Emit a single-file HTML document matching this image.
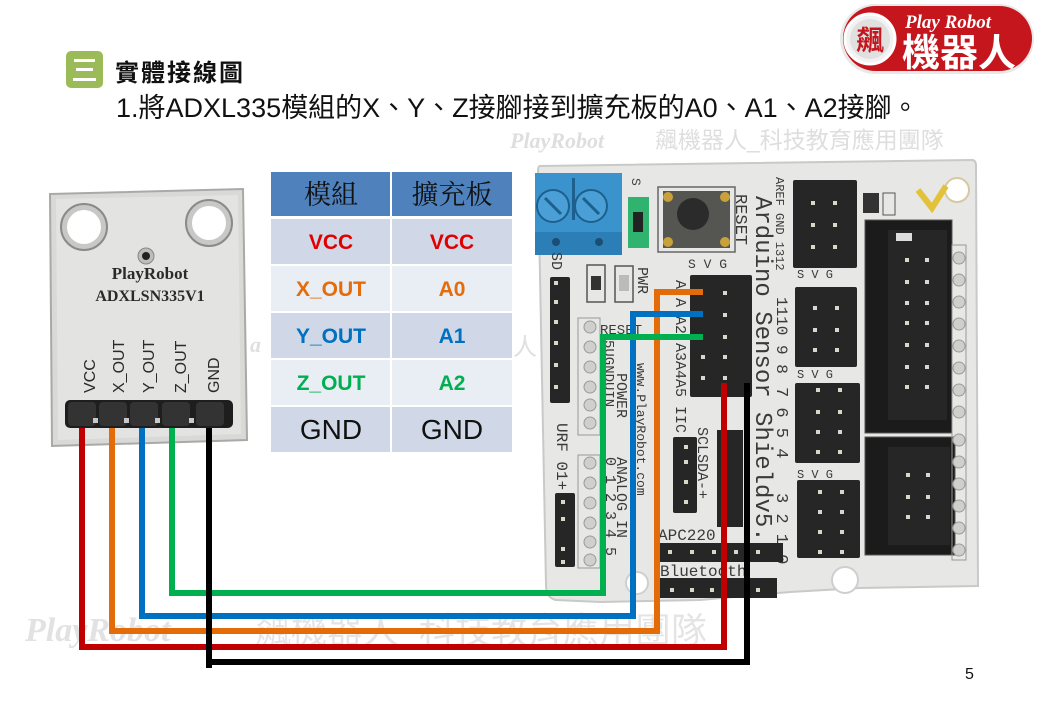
<!DOCTYPE html>
<html><head><meta charset="utf-8"><style>
html,body{margin:0;padding:0;background:#fff;}
svg{display:block;}
</style></head><body>
<svg width="1040" height="720" viewBox="0 0 1040 720" xmlns="http://www.w3.org/2000/svg">
<rect width="1040" height="720" fill="#fff"/>

<!-- watermarks -->
<g fill="#dedede">
<text x="510" y="148" font-family="Liberation Serif, serif" font-style="italic" font-weight="bold" font-size="22">PlayRobot</text>
<text x="655" y="148" font-family="Liberation Sans, Noto Sans CJK TC, sans-serif" font-size="23">飆機器人_科技教育應用團隊</text>
<text x="25" y="641" font-family="Liberation Serif, serif" font-style="italic" font-weight="bold" font-size="34" fill="#e2e2e2">PlayRobot</text>
<text x="255" y="643" font-family="Liberation Sans, Noto Sans CJK TC, sans-serif" font-size="36" fill="#e4e4e4">飆機器人_科技教育應用團隊</text>
<text x="250" y="352" font-family="Liberation Serif, serif" font-style="italic" font-weight="bold" font-size="22" fill="#e0e0e0">a</text>
<text x="513" y="355" font-family="Noto Sans CJK TC, sans-serif" font-size="24" fill="#e0e0e0">人</text>
</g>

<!-- title -->
<rect x="66" y="51" width="37" height="37" rx="5" fill="#9bbb59"/>
<rect x="74" y="59" width="21" height="3" fill="#fff"/>
<rect x="76" y="68" width="17" height="3" fill="#fff"/>
<rect x="73" y="78" width="23" height="3" fill="#fff"/>
<text x="115" y="81" font-family="Noto Sans CJK TC, sans-serif" font-weight="bold" font-size="24" letter-spacing="2" fill="#111">實體接線圖</text>
<text x="116" y="117" font-family="Liberation Sans, Noto Sans CJK TC, sans-serif" font-size="27" fill="#111">1.將ADXL335模組的X、Y、Z接腳接到擴充板的A0、A1、A2接腳。</text>

<!-- logo -->
<rect x="840" y="4" width="194" height="70" rx="35" fill="#e8e8e8"/>
<rect x="843" y="6" width="189" height="65" rx="32.5" fill="#c4161c"/>
<circle cx="870" cy="39" r="25" fill="#f2f2f2" stroke="#fff" stroke-width="3"/>
<circle cx="870" cy="39" r="20" fill="#e0e0e0"/>
<text x="870" y="50" text-anchor="middle" font-family="Noto Sans CJK TC, sans-serif" font-weight="bold" font-size="28" fill="#c4161c">飆</text>
<text x="905" y="28" font-family="Liberation Serif, serif" font-style="italic" font-weight="bold" font-size="19" fill="#fff">Play Robot</text>
<text x="902" y="66" font-family="Noto Sans CJK TC, sans-serif" font-weight="bold" font-size="38" fill="#fff">機器人</text>

<!-- page number -->
<text x="965" y="679" font-family="Liberation Sans, sans-serif" font-size="16" fill="#111">5</text>

<!-- ===== module ===== -->
<path d="M50 194 L243 189 L247 440 L52 446 Z" fill="#d9d9d7" stroke="#a9a9a7" stroke-width="2"/>
<path d="M56 199 L238 195 L241 434 L58 440 Z" fill="#e3e3e1"/>
<circle cx="84" cy="227" r="23" fill="#c8c8c6" stroke="#8a8a88" stroke-width="2"/>
<circle cx="84" cy="227" r="17" fill="#fff"/>
<circle cx="209" cy="223" r="23" fill="#c8c8c6" stroke="#8a8a88" stroke-width="2"/>
<circle cx="209" cy="223" r="17" fill="#fff"/>
<circle cx="146" cy="256" r="8" fill="#bdbdbb" stroke="#888" stroke-width="1"/>
<circle cx="146" cy="256" r="4" fill="#222"/>
<text x="150" y="279" text-anchor="middle" font-family="Liberation Serif, serif" font-weight="bold" font-size="17" fill="#2a2a2a">PlayRobot</text>
<text x="150" y="301" text-anchor="middle" font-family="Liberation Serif, serif" font-weight="bold" font-size="16" fill="#2a2a2a">ADXLSN335V1</text>
<g font-family="Liberation Sans, sans-serif" font-size="16" fill="#2a2a2a">
<text transform="translate(95,393) rotate(-90)">VCC</text>
<text transform="translate(124,393) rotate(-90)">X_OUT</text>
<text transform="translate(154,393) rotate(-90)">Y_OUT</text>
<text transform="translate(186,393) rotate(-90)">Z_OUT</text>
<text transform="translate(219,393) rotate(-90)">GND</text>
</g>
<rect x="65" y="400" width="168" height="28" rx="5" fill="#1e1e1e"/>
<g fill="#333">
<rect x="68" y="402" width="28" height="24" rx="4"/>
<rect x="99" y="402" width="28" height="24" rx="4"/>
<rect x="130" y="402" width="28" height="24" rx="4"/>
<rect x="162" y="402" width="28" height="24" rx="4"/>
<rect x="196" y="402" width="28" height="24" rx="4"/>
</g>
<g fill="#c8c8c8">
<rect x="93" y="418" width="5" height="5"/><rect x="124" y="418" width="5" height="5"/>
<rect x="155" y="418" width="5" height="5"/><rect x="189" y="418" width="5" height="5"/>
</g>

<!-- ===== table ===== -->
<rect x="271" y="172" width="241" height="280" fill="#fff"/>
<rect x="271" y="172" width="119" height="44" fill="#4f81bd"/>
<rect x="392" y="172" width="120" height="44" fill="#4f81bd"/>
<g>
<rect x="271" y="219" width="119" height="45" fill="#d0d8e8"/><rect x="392" y="219" width="120" height="45" fill="#d0d8e8"/>
<rect x="271" y="266" width="119" height="45" fill="#e9edf4"/><rect x="392" y="266" width="120" height="45" fill="#e9edf4"/>
<rect x="271" y="313" width="119" height="45" fill="#d0d8e8"/><rect x="392" y="313" width="120" height="45" fill="#d0d8e8"/>
<rect x="271" y="360" width="119" height="45" fill="#e9edf4"/><rect x="392" y="360" width="120" height="45" fill="#e9edf4"/>
<rect x="271" y="407" width="119" height="45" fill="#d0d8e8"/><rect x="392" y="407" width="120" height="45" fill="#d0d8e8"/>
</g>
<g font-family="Noto Serif CJK SC, Noto Serif CJK TC, serif" font-size="27" fill="#111" text-anchor="middle">
<text x="331" y="204">模組</text>
<text x="452" y="204">擴充板</text>
</g>
<g font-family="Liberation Sans, sans-serif" font-weight="bold" font-size="21" text-anchor="middle">
<text x="331" y="249" fill="#e00000">VCC</text><text x="452" y="249" fill="#e00000">VCC</text>
<text x="331" y="296" fill="#e46c0a">X_OUT</text><text x="452" y="296" fill="#e46c0a">A0</text>
<text x="331" y="343" fill="#0070c0">Y_OUT</text><text x="452" y="343" fill="#0070c0">A1</text>
<text x="331" y="390" fill="#00b050">Z_OUT</text><text x="452" y="390" fill="#00b050">A2</text>
</g>
<g font-family="Liberation Sans, sans-serif" font-size="28" fill="#111" text-anchor="middle">
<text x="331" y="439">GND</text><text x="452" y="439">GND</text>
</g>

<!-- ===== shield board ===== -->
<path d="M540 166 L972 160 Q976 160 976 166 L978 586 L860 588 L790 592 L700 600 L600 602 L556 600 Q546 598 546 585 L538 172 Q538 166 540 166 Z" fill="#e7e7e5" stroke="#c9c9c7" stroke-width="2"/>
<circle cx="957" cy="190" r="12" fill="#fff" stroke="#d4c9a0" stroke-width="2"/>
<circle cx="845" cy="580" r="13" fill="#fff" stroke="#cfcfcf" stroke-width="2"/>
<circle cx="637" cy="583" r="11" fill="#fff" stroke="#cfcfcf" stroke-width="2"/>

<!-- terminal block -->
<rect x="535" y="173" width="87" height="82" fill="#3a93cc"/>
<rect x="535" y="232" width="87" height="23" fill="#2c7fb6"/>
<circle cx="553" cy="206" r="16" fill="#4aa0d6" stroke="#1d5f8d" stroke-width="2"/>
<circle cx="591" cy="206" r="16" fill="#4aa0d6" stroke="#1d5f8d" stroke-width="2"/>
<line x1="545" y1="198" x2="561" y2="214" stroke="#1d5f8d" stroke-width="3"/>
<line x1="583" y1="198" x2="599" y2="214" stroke="#1d5f8d" stroke-width="3"/>
<rect x="572" y="178" width="3" height="42" fill="#1d5f8d"/>
<circle cx="556" cy="242" r="4" fill="#1a4f75"/><circle cx="599" cy="242" r="4" fill="#1a4f75"/>
<!-- jumper -->
<rect x="628" y="197" width="21" height="51" fill="#2fb36f"/>
<rect x="633" y="212" width="10" height="20" fill="#222"/>
<text transform="translate(632,178) rotate(90)" font-family="Liberation Mono, monospace" font-size="13" fill="#444">S</text>
<!-- button -->
<rect x="658" y="187" width="77" height="65" fill="none" stroke="#666" stroke-width="1.5"/>
<rect x="663" y="191" width="67" height="57" fill="#555552"/>
<circle cx="693" cy="214" r="16" fill="#2b2b2b"/>
<g fill="#c9a13b"><circle cx="668" cy="197" r="5"/><circle cx="725" cy="197" r="5"/><circle cx="668" cy="242" r="5"/><circle cx="725" cy="242" r="5"/></g>

<!-- board text rotated -->
<g font-family="Liberation Mono, monospace" fill="#3a3a3a">
<text transform="translate(756,196) rotate(90)" font-size="24">Arduino Sensor Shieldv5.0</text>
<text transform="translate(736,194) rotate(90)" font-size="17">RESET</text>
<text transform="translate(776,177) rotate(90)" font-size="12">AREF GND 1312</text>
<text transform="translate(777,297) rotate(90)" font-size="16">1110 9 8</text>
<text transform="translate(777,387) rotate(90)" font-size="17">7 6 5 4</text>
<text transform="translate(777,493) rotate(90)" font-size="17">3 2 1 0</text>
<text transform="translate(552,252) rotate(90)" font-size="15">SD</text>
<text transform="translate(638,267) rotate(90)" font-size="15">PWR</text>
<text transform="translate(676,280) rotate(90)" font-size="15">A A A2 A3A4A5 IIC</text>
<text transform="translate(698,427) rotate(90)" font-size="15">SCLSDA-+</text>
<text transform="translate(727,430) rotate(90)" font-size="14">COM</text>
<text transform="translate(557,423) rotate(90)" font-size="16">URF  01+</text>
<text transform="translate(617,373) rotate(90)" font-size="15">POWER</text>
<text transform="translate(605,340) rotate(90)" font-size="14">5UGNDUIN</text>
<text transform="translate(637,363) rotate(90)" font-size="13">www.PlayRobot.com</text>
<text transform="translate(617,457) rotate(90)" font-size="15">ANALOG IN</text>
<text transform="translate(606,457) rotate(90)" font-size="15">0 1 2 3 4 5</text>
<text x="600" y="334" font-size="14">RESET</text>
<text x="658" y="540" font-size="16">APC220</text>
<text x="660" y="576" font-size="16">Bluetooth</text>
<text transform="translate(688,268)" font-size="13">S V G</text>
<text transform="translate(797,278)" font-size="12">S V G</text>
<text transform="translate(797,378)" font-size="12">S V G</text>
<text transform="translate(797,478)" font-size="12">S V G</text>
</g>

<!-- small SMD parts -->
<rect x="587" y="265" width="18" height="37" fill="none" stroke="#555" stroke-width="1.5"/>
<rect x="591" y="276" width="10" height="14" fill="#333"/>
<rect x="615" y="266" width="18" height="36" fill="none" stroke="#555" stroke-width="1.5"/>
<rect x="619" y="275" width="10" height="16" fill="#bbb"/>
<rect x="863" y="193" width="16" height="20" fill="#333"/>
<rect x="883" y="193" width="12" height="22" fill="none" stroke="#555"/>
<path d="M918 190 L932 208 L946 186" fill="none" stroke="#e2c23a" stroke-width="6"/>

<!-- headers -->
<g fill="#262626">
<rect x="550" y="277" width="20" height="126" rx="2"/>
<rect x="690" y="275" width="62" height="122" rx="2"/>
<rect x="673" y="437" width="24" height="76" rx="2"/>
<rect x="717" y="430" width="26" height="97"/>
<rect x="555" y="493" width="20" height="74" rx="2"/>
<rect x="793" y="180" width="64" height="88" rx="2"/>
<rect x="795" y="287" width="62" height="80" rx="2"/>
<rect x="795" y="383" width="65" height="80" rx="2"/>
<rect x="797" y="480" width="63" height="78" rx="2"/>
<rect x="660" y="543" width="123" height="19"/>
<rect x="660" y="578" width="117" height="20"/>
</g>
<rect x="865" y="220" width="87" height="213" fill="#1b1b1b" stroke="#555" stroke-width="1"/>
<rect x="888" y="230" width="59" height="190" fill="#262626"/>
<rect x="896" y="233" width="16" height="8" fill="#ddd"/>
<rect x="865" y="437" width="90" height="118" fill="#1b1b1b" stroke="#555" stroke-width="1"/>
<rect x="888" y="447" width="62" height="98" fill="#262626"/>

<!-- pins -->
<g fill="#d8d8c8">
<rect x="554" y="281" width="4" height="4"/><rect x="554" y="300" width="4" height="4"/><rect x="554" y="320" width="4" height="4"/><rect x="554" y="341" width="4" height="4"/><rect x="554" y="363" width="4" height="4"/><rect x="554" y="385" width="4" height="4"/>
<rect x="723" y="291" width="4" height="4"/><rect x="723" y="313" width="4" height="4"/><rect x="723" y="335" width="4" height="4"/><rect x="701" y="355" width="4" height="4"/><rect x="723" y="355" width="4" height="4"/><rect x="701" y="376" width="4" height="4"/><rect x="723" y="376" width="4" height="4"/>
<rect x="684" y="445" width="4" height="4"/><rect x="684" y="460" width="4" height="4"/><rect x="684" y="480" width="4" height="4"/><rect x="684" y="500" width="4" height="4"/>
<rect x="561" y="500" width="4" height="4"/><rect x="561" y="517" width="4" height="4"/><rect x="561" y="547" width="4" height="4"/><rect x="561" y="560" width="4" height="4"/>
<rect x="811" y="201" width="4" height="4"/><rect x="833" y="201" width="4" height="4"/><rect x="811" y="223" width="4" height="4"/><rect x="833" y="223" width="4" height="4"/><rect x="811" y="245" width="4" height="4"/><rect x="833" y="245" width="4" height="4"/>
<rect x="813" y="306" width="4" height="4"/><rect x="835" y="306" width="4" height="4"/><rect x="813" y="328" width="4" height="4"/><rect x="835" y="328" width="4" height="4"/><rect x="813" y="348" width="4" height="4"/><rect x="835" y="348" width="4" height="4"/>
<rect x="816" y="388" width="4" height="4"/><rect x="838" y="388" width="4" height="4"/><rect x="816" y="410" width="4" height="4"/><rect x="838" y="410" width="4" height="4"/><rect x="816" y="430" width="4" height="4"/><rect x="838" y="430" width="4" height="4"/><rect x="816" y="450" width="4" height="4"/><rect x="838" y="450" width="4" height="4"/>
<rect x="818" y="490" width="4" height="4"/><rect x="840" y="490" width="4" height="4"/><rect x="818" y="510" width="4" height="4"/><rect x="840" y="510" width="4" height="4"/><rect x="818" y="530" width="4" height="4"/><rect x="840" y="530" width="4" height="4"/><rect x="818" y="550" width="4" height="4"/><rect x="840" y="550" width="4" height="4"/>
<rect x="905" y="258" width="4" height="4"/><rect x="925" y="258" width="4" height="4"/><rect x="905" y="280" width="4" height="4"/><rect x="925" y="280" width="4" height="4"/><rect x="905" y="301" width="4" height="4"/><rect x="925" y="301" width="4" height="4"/><rect x="905" y="321" width="4" height="4"/><rect x="925" y="321" width="4" height="4"/><rect x="905" y="343" width="4" height="4"/><rect x="925" y="343" width="4" height="4"/><rect x="905" y="365" width="4" height="4"/><rect x="925" y="365" width="4" height="4"/><rect x="905" y="385" width="4" height="4"/><rect x="925" y="385" width="4" height="4"/>
<rect x="906" y="473" width="4" height="4"/><rect x="926" y="473" width="4" height="4"/><rect x="906" y="495" width="4" height="4"/><rect x="926" y="495" width="4" height="4"/><rect x="906" y="515" width="4" height="4"/><rect x="926" y="515" width="4" height="4"/>
<rect x="668" y="550" width="4" height="4"/><rect x="690" y="550" width="4" height="4"/><rect x="712" y="550" width="4" height="4"/><rect x="734" y="550" width="4" height="4"/><rect x="756" y="550" width="4" height="4"/>
<rect x="670" y="588" width="4" height="4"/><rect x="690" y="588" width="4" height="4"/><rect x="710" y="588" width="4" height="4"/><rect x="756" y="588" width="4" height="4"/>
</g>

<!-- circle pad columns -->
<g fill="#cfcfcd" stroke="#9a9a98" stroke-width="1">
<rect x="578" y="318" width="22" height="117" fill="none"/>
<rect x="578" y="455" width="22" height="113" fill="none"/>
<circle cx="590" cy="327" r="6"/><circle cx="590" cy="347" r="6"/><circle cx="590" cy="367" r="6"/><circle cx="590" cy="387" r="6"/><circle cx="590" cy="405" r="6"/><circle cx="590" cy="423" r="6"/>
<circle cx="590" cy="463" r="6"/><circle cx="590" cy="483" r="6"/><circle cx="590" cy="503" r="6"/><circle cx="590" cy="523" r="6"/><circle cx="590" cy="542" r="6"/><circle cx="590" cy="560" r="6"/>
<rect x="952" y="245" width="14" height="315" fill="none"/>
<circle cx="959" cy="258" r="6"/><circle cx="959" cy="280" r="6"/><circle cx="959" cy="302" r="6"/><circle cx="959" cy="324" r="6"/><circle cx="959" cy="346" r="6"/><circle cx="959" cy="368" r="6"/><circle cx="959" cy="390" r="6"/><circle cx="959" cy="412" r="6"/><circle cx="959" cy="440" r="6"/><circle cx="959" cy="462" r="6"/><circle cx="959" cy="484" r="6"/><circle cx="959" cy="506" r="6"/><circle cx="959" cy="528" r="6"/><circle cx="959" cy="550" r="6"/>
</g>

<!-- ===== wires ===== -->
<g fill="none" stroke-width="6" stroke-linejoin="miter" stroke-linecap="butt">
<path d="M209 428 V662 H747 V383" stroke="#000"/>
<path d="M82 428 V647 H724 V383" stroke="#c00000"/>
<path d="M112 428 V631 H657 V292 H703" stroke="#e36c09"/>
<path d="M142 428 V616 H633 V314 H703" stroke="#0070c0"/>
<path d="M172 428 V593 H603 V337 H703" stroke="#00b050"/>
<path d="M209 590 V668" stroke="#000"/>
</g>
</svg>
</body></html>
